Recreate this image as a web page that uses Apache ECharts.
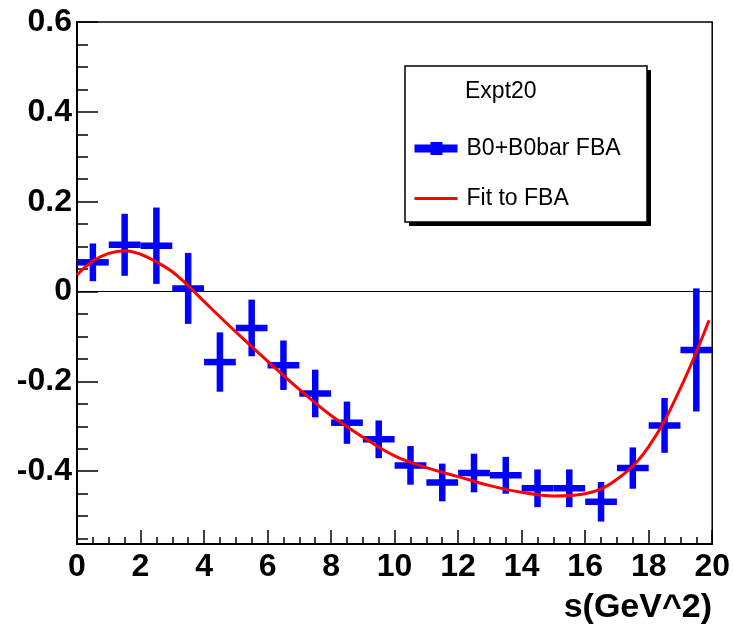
<!DOCTYPE html>
<html>
<head>
<meta charset="utf-8">
<script src="https://cdn.jsdelivr.net/npm/echarts@6/dist/echarts.min.js"></script>
<style>html,body{margin:0;padding:0;background:#fff;}#c{width:733px;height:624px;}</style>
</head>
<body>
<div id="c"></div>
<script>
// ---- data ----
const binCenters = [0.5,1.5,2.5,3.5,4.5,5.5,6.5,7.5,8.5,9.5,10.5,11.5,12.5,13.5,14.5,15.5,16.5,17.5,18.5,19.5];
const fbaValues  = [0.065,0.104,0.102,0.007,-0.157,-0.081,-0.164,-0.227,-0.292,-0.329,-0.387,-0.425,-0.404,-0.409,-0.438,-0.438,-0.468,-0.393,-0.298,-0.130];
const fbaErrors  = [0.042,0.069,0.085,0.079,0.066,0.063,0.055,0.053,0.047,0.042,0.043,0.042,0.043,0.041,0.042,0.042,0.044,0.046,0.061,0.137];
const binHalfWidth = 0.5;

const fitX = [0,0.5,1,1.5,2,2.5,3,3.5,4,5,6,7,8,9,10,11,12,13,14,15,16,17,18,19,19.9];
const fitY = [0.037,0.068,0.085,0.091,0.083,0.066,0.044,0.013,-0.022,-0.09,-0.155,-0.218,-0.276,-0.324,-0.366,-0.392,-0.412,-0.432,-0.447,-0.455,-0.45,-0.418,-0.345,-0.215,-0.064];

const yMajorTicks = [-0.4,-0.2,0,0.2,0.4,0.6];
const yMinorTicks = [-0.55,-0.5,-0.45,-0.35,-0.3,-0.25,-0.15,-0.1,-0.05,0.05,0.1,0.15,0.25,0.3,0.35,0.45,0.5,0.55];
const xAxisTitle = 's(GeV^2)';
const legendTitle = 'Expt20';
const seriesNames = ['B0+B0bar FBA', 'Fit to FBA'];

// ---- chart ----
const chart = echarts.init(document.getElementById('c'), null, {renderer: 'canvas'});
const FONT = '"Liberation Sans", Arial, Helvetica, sans-serif';
const Y_MIN = -0.562, Y_MAX = 0.6;

const errData = binCenters.map((x, i) => [x, fbaValues[i], fbaErrors[i]]);
const fitData = fitX.map((x, i) => [x, fitY[i]]);

const option = {
  animation: false,
  grid: {left: 77, right: 18, top: 22, bottom: 80, show: true, borderColor: '#000', borderWidth: 1.5, backgroundColor: 'transparent'},
  xAxis: {
    type: 'value', min: 0, max: 20, interval: 2,
    axisLine: {show: true, onZero: false, lineStyle: {color: '#000', width: 2}},
    axisTick: {show: true, inside: true, length: 14, lineStyle: {color: '#000', width: 1.5}},
    minorTick: {show: true, splitNumber: 4, length: 7, lineStyle: {color: '#000', width: 1.5}},
    splitLine: {show: false},
    axisLabel: {color: '#000', fontFamily: FONT, fontWeight: 'bold', fontSize: 32, margin: 7}
  },
  yAxis: [{
    type: 'value', min: Y_MIN, max: Y_MAX, position: 'left',
    axisLine: {show: true, onZero: false, lineStyle: {color: '#000', width: 2}},
    axisTick: {show: true, inside: true, length: 21, customValues: yMajorTicks, lineStyle: {color: '#000', width: 1.5}},
    splitLine: {show: false},
    axisLabel: {color: '#000', fontFamily: FONT, fontWeight: 'bold', fontSize: 32, margin: 5,
      customValues: yMajorTicks,
      formatter: v => (Math.abs(v) < 1e-9 ? '0' : v.toFixed(1))}
  }, {
    type: 'value', min: Y_MIN, max: Y_MAX, position: 'left',
    axisLine: {show: false},
    axisTick: {show: true, inside: true, length: 11, customValues: yMinorTicks, lineStyle: {color: '#000', width: 1.5}},
    splitLine: {show: false},
    axisLabel: {show: false}
  }],
  legend: {
    orient: 'vertical', left: 413, top: 137, padding: 0, itemWidth: 43, itemHeight: 13, itemGap: 27, z: 10,
    textStyle: {color: '#000', fontFamily: FONT, fontSize: 23, padding: [0, 0, 0, 4]},
    data: [
      {name: seriesNames[0], icon: 'path://M0,2.5 L16,2.5 L16,0 L28,0 L28,2.5 L43,2.5 L43,10.5 L28,10.5 L28,13 L16,13 L16,10.5 L0,10.5 Z'},
      {name: seriesNames[1], itemStyle: {opacity: 0}, lineStyle: {color: '#ff0000', width: 3}}
    ]
  },
  graphic: [
    {type: 'rect', z: 3, shape: {x: 409, y: 70, width: 242, height: 156}, style: {fill: '#000'}},
    {type: 'rect', z: 4, shape: {x: 405, y: 66, width: 242, height: 156}, style: {fill: '#fff', stroke: '#000', lineWidth: 1.5}},
    {type: 'text', z: 5, x: 465, y: 92, style: {text: legendTitle, fill: '#000', font: '23px ' + FONT, verticalAlign: 'middle'}},
    {type: 'text', z: 5, x: 712, y: 608, style: {text: xAxisTitle, fill: '#000', font: 'bold 34px ' + FONT, align: 'right', verticalAlign: 'middle'}}
  ],
  series: [{
    name: seriesNames[0], type: 'custom', yAxisIndex: 0,
    itemStyle: {color: '#0000ff'},
    data: errData,
    renderItem: function (params, api) {
      const x = api.value(0), y = api.value(1), e = api.value(2);
      const l = api.coord([x - binHalfWidth, y]), r = api.coord([x + binHalfWidth, y]);
      const t = api.coord([x, y + e]), b = api.coord([x, y - e]);
      const st = {stroke: '#0000ff', lineWidth: 6.5, lineCap: 'butt'};
      return {type: 'group', children: [
        {type: 'line', shape: {x1: l[0], y1: l[1], x2: r[0], y2: r[1]}, style: st},
        {type: 'line', shape: {x1: t[0], y1: t[1], x2: b[0], y2: b[1]}, style: st}
      ]};
    },
    z: 2
  }, {
    name: seriesNames[1], type: 'line', yAxisIndex: 0, data: fitData,
    smooth: 0.4, symbol: 'none', showSymbol: false,
    lineStyle: {color: '#ff0000', width: 3}, itemStyle: {color: '#ff0000'},
    z: 3,
    markLine: {silent: true, symbol: 'none', label: {show: false},
      lineStyle: {color: '#000', width: 1.2, type: 'solid'}, data: [{yAxis: 0}], z: 1}
  }]
};
chart.setOption(option);
</script>
</body>
</html>
